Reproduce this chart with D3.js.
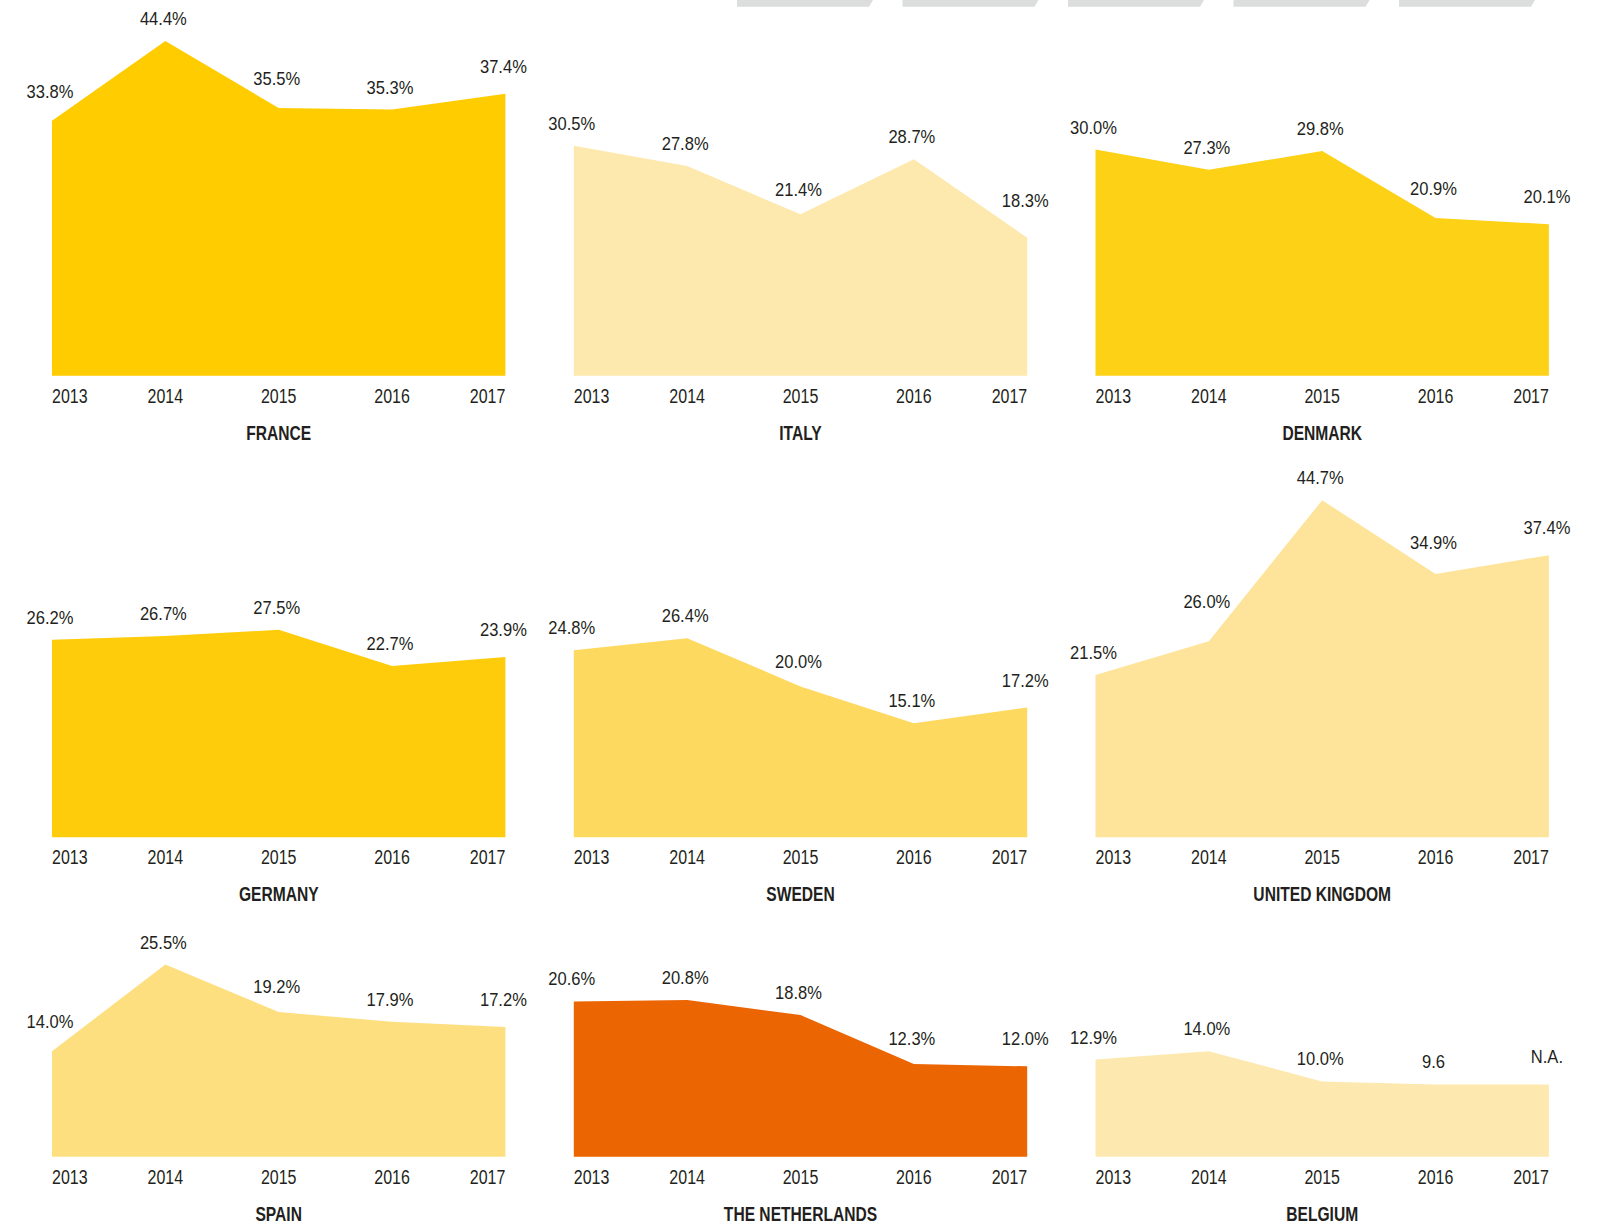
<!DOCTYPE html>
<html>
<head>
<meta charset="utf-8">
<script src="https://cdn.jsdelivr.net/npm/d3@7"></script>
<style>
  html, body { margin: 0; padding: 0; background: #fff; }
  text { font-family: "Liberation Sans", Arial, sans-serif; fill: #231f20; }
</style>
</head>
<body>
<svg id="chart" width="1601" height="1224"></svg>
<script>
// Small multiples: share per country, 2013-2017
const years = ["2013", "2014", "2015", "2016", "2017"];

const countries = [
  "FRANCE", "ITALY", "DENMARK",
  "GERMANY", "SWEDEN", "UNITED KINGDOM",
  "SPAIN", "THE NETHERLANDS", "BELGIUM"
];

const franceValues = [33.8, 44.4, 35.5, 35.3, 37.4];
const italyValues = [30.5, 27.8, 21.4, 28.7, 18.3];
const denmarkValues = [30.0, 27.3, 29.8, 20.9, 20.1];
const germanyValues = [26.2, 26.7, 27.5, 22.7, 23.9];
const swedenValues = [24.8, 26.4, 20.0, 15.1, 17.2];
const ukValues = [21.5, 26.0, 44.7, 34.9, 37.4];
const spainValues = [14.0, 25.5, 19.2, 17.9, 17.2];
const netherlandsValues = [20.6, 20.8, 18.8, 12.3, 12.0];
const belgiumValues = [12.9, 14.0, 10.0, 9.6, null];

// Belgium's printed labels differ from the plain format
const belgiumLabels = ["12.9%", "14.0%", "10.0%", "9.6", "N.A."];

const seriesValues = [
  franceValues, italyValues, denmarkValues,
  germanyValues, swedenValues, ukValues,
  spainValues, netherlandsValues, belgiumValues
];
const seriesLabels = [null, null, null, null, null, null, null, null, belgiumLabels];

const fills = [
  "#ffcc00", "#fde8ae", "#fdd116",
  "#fecc0a", "#fed95f", "#fee49b",
  "#fedf80", "#eb6503", "#fde9b0"
];

const svg = d3.select("#chart");

// grey tabs cut off at the top edge
const tabX = d3.scaleLinear().domain([0, 4]).range([737, 1399]);
svg.selectAll(".tab")
  .data(d3.range(5))
  .join("path")
  .attr("class", "tab")
  .attr("fill", "#dcdddd")
  .attr("d", (i) => {
    const x = tabX(i);
    return `M${x},0 L${x + 136},0 L${x + 132},6.7 L${x},6.7 Z`;
  });

// layout
const colLeft = [52, 573.8, 1095.5];
const panelWidth = 453.4;
const rowBase = [375.7, 837.2, 1156.8];
const pxPerPct = 7.54;

const y = d3.scaleLinear().domain([0, 1]).range([0, -pxPerPct]);
const x = d3.scalePoint().domain(years).range([0, panelWidth]);

// condensed look: squeeze a regular face horizontally
function narrowText(parent, str, px, py, opts) {
  const sx = opts.squeeze || 0.82;
  const t = parent.append("text")
    .attr("transform", `translate(${px},${py}) scale(${sx},1)`)
    .attr("text-anchor", opts.anchor || "middle")
    .attr("font-size", opts.size)
    .attr("font-weight", opts.weight || null)
    .text(str);
  return t;
}

countries.forEach((name, k) => {
  const col = k % 3;
  const row = Math.floor(k / 3);
  const g = svg.append("g")
    .attr("transform", `translate(${colLeft[col]},${rowBase[row]})`);

  const vals = seriesValues[k];
  // missing last value: area carries the previous level flat
  const drawn = vals.map((v, i) => (v == null ? vals[i - 1] : v));
  const pts = years.map((yr, i) => ({ yr, v: drawn[i], raw: vals[i] }));

  const area = d3.area()
    .x((d) => x(d.yr))
    .y0(0)
    .y1((d) => y(d.v));

  g.append("path")
    .datum(pts)
    .attr("fill", fills[k])
    .attr("d", area);

  // y of the top line at a given px
  const lineAt = (px) => {
    px = Math.max(0, Math.min(panelWidth, px));
    const step = panelWidth / 4;
    const i = Math.min(3, Math.floor(px / step));
    const t = (px - i * step) / step;
    return y(drawn[i] + (drawn[i + 1] - drawn[i]) * t);
  };

  // value labels
  const labels = seriesLabels[k] || vals.map((v) => v.toFixed(1) + "%");
  pts.forEach((d, i) => {
    const cx = x(d.yr) - 2;
    const squeeze = 0.92;
    const probe = narrowText(g, labels[i], cx, 0, { size: 18, squeeze });
    const w = probe.node().getComputedTextLength() * squeeze;
    let minY = y(d.v);
    for (let px = cx - w / 2; px <= cx + w / 2; px += 2) {
      if (px >= 0 && px <= panelWidth) minY = Math.min(minY, lineAt(px));
    }
    // last point sits at the panel edge, lift it a bit more
    const extra = i === years.length - 1 ? 5 : 0;
    const base = Math.min(y(d.v) - 16, minY - 8) - extra;
    probe.attr("transform", `translate(${cx},${base}) scale(${squeeze},1)`);
  });

  // year axis labels
  years.forEach((yr, i) => {
    narrowText(g, yr, x(yr), 27, {
      size: 19.5,
      anchor: i === 0 ? "start" : i === years.length - 1 ? "end" : "middle"
    });
  });

  // country name
  narrowText(g, name, panelWidth / 2, 64, { size: 19.5, weight: "bold", squeeze: 0.8 });
});
</script>
</body>
</html>
